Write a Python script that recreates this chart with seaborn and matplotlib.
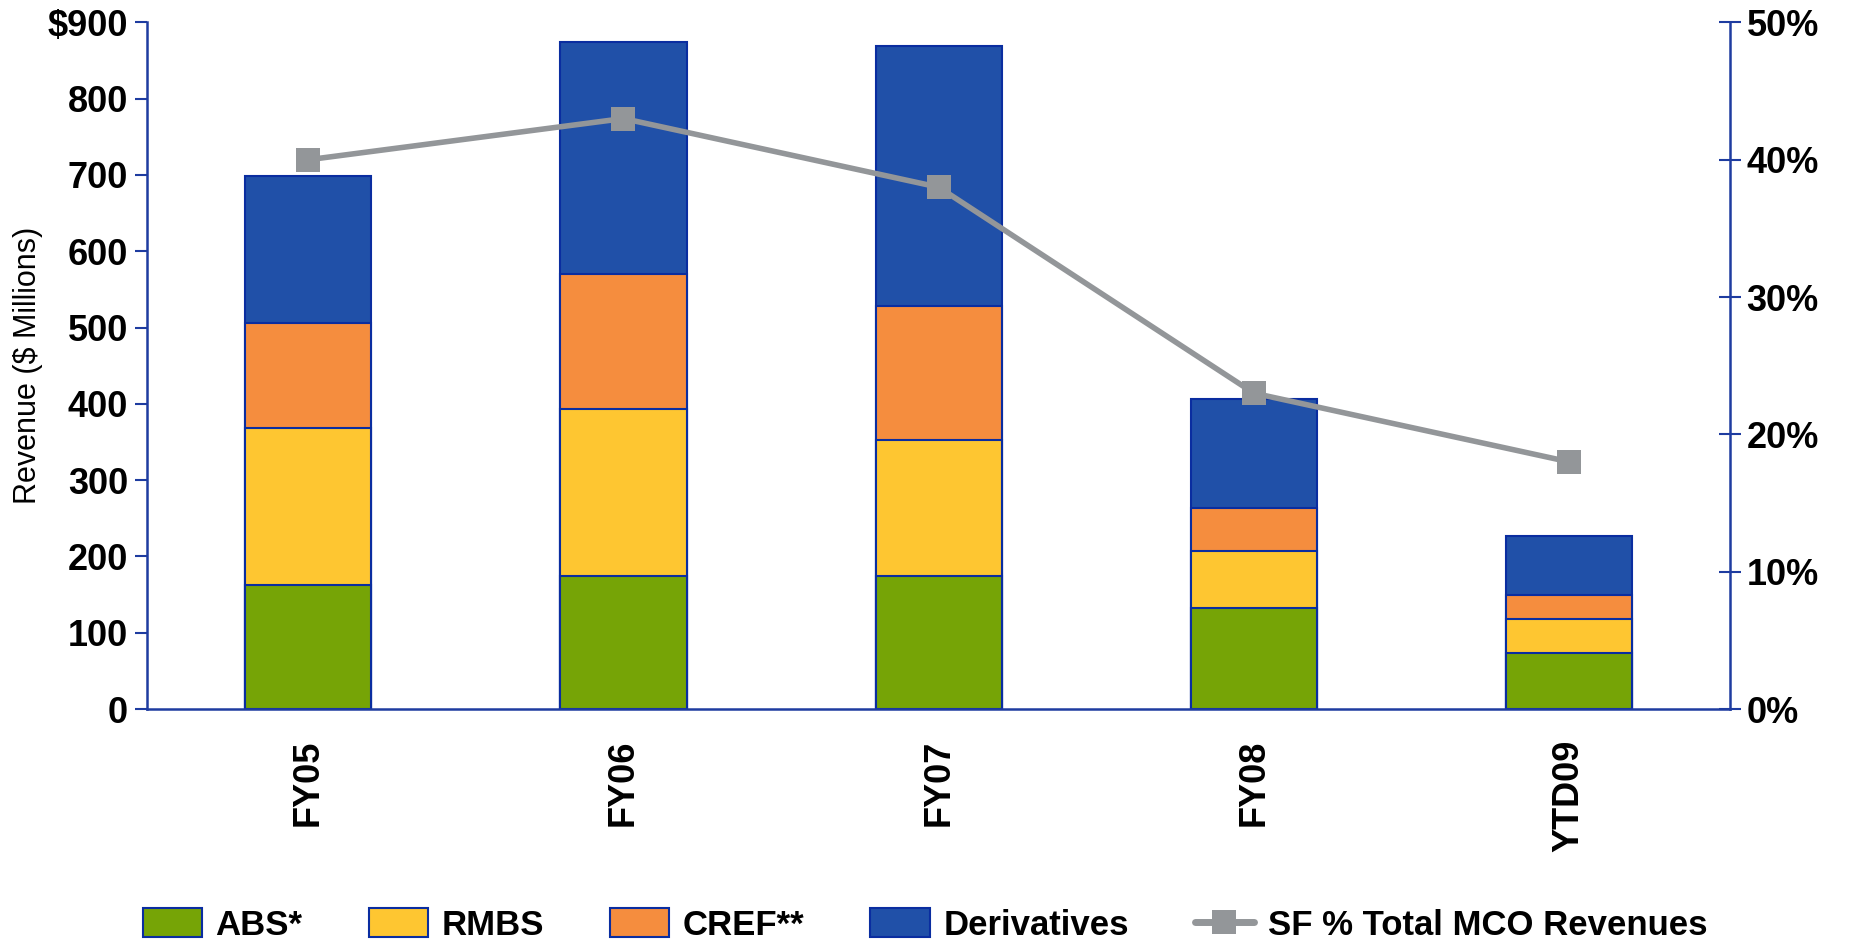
import pandas as pd
import seaborn as sns
import matplotlib.pyplot as plt
from matplotlib.patches import Patch
from matplotlib.lines import Line2D
from matplotlib.ticker import PercentFormatter

# --- Data ---
years = ["FY05", "FY06", "FY07", "FY08", "YTD09"]
abs_rev = [162, 175, 175, 133, 74]
rmbs_rev = [207, 218, 177, 74, 44]
cref_rev = [137, 177, 176, 56, 31]
deriv_rev = [193, 304, 341, 143, 78]
sf_pct = [40, 43, 38, 23, 18]

segments = ["ABS*", "RMBS", "CREF**", "Derivatives"]
colors = ["#76A406", "#FEC631", "#F58D3E", "#2050A8"]
edge_blue = "#0A2DA0"
axis_blue = "#1E3CA0"
line_grey = "#939699"

sns.set_theme(style="white")
plt.rcParams["font.family"] = ["Liberation Sans", "DejaVu Sans"]
plt.rcParams["text.color"] = "black"
plt.rcParams["axes.labelcolor"] = "black"
plt.rcParams["xtick.labelcolor"] = "black"
plt.rcParams["ytick.labelcolor"] = "black"

df = pd.DataFrame({"year": years, "ABS*": abs_rev, "RMBS": rmbs_rev,
                   "CREF**": cref_rev, "Derivatives": deriv_rev})
# cumulative totals for stacking
cum = df[segments].cumsum(axis=1)
cum["year"] = df["year"]

fig = plt.figure(figsize=(18.5, 9.46), dpi=100)
ax = fig.add_axes([0.0797, 0.2505, 0.8554, 0.7258])

# draw tallest (cumulative) first, then overlay lower segments
for seg, col in zip(segments[::-1], colors[::-1]):
    sns.barplot(data=cum, x="year", y=seg, order=years, color=col,
                width=0.4, edgecolor=edge_blue, linewidth=1.5,
                saturation=1, ax=ax)

ax.set_ylim(0, 900)
ax.set_xlim(-0.51, 4.51)
ax.set_yticks(range(0, 901, 100))
ax.set_yticklabels([str(v) for v in range(0, 900, 100)] + ["$900"],
                   fontsize=26, fontweight="bold")
ax.set_xticks(range(len(years)))
ax.set_xticklabels(years, rotation=90, fontsize=26, fontweight="bold")
ax.tick_params(axis="x", length=0, pad=22)
ax.tick_params(axis="y", direction="out", length=9, width=1.5,
               color=axis_blue, pad=5, left=True)
ax.set_xlabel("")
ax.set_ylabel("Revenue ($ Millions)", fontsize=22)
ax.yaxis.set_label_coords(-0.066, 0.5)

for side in ["top", "right"]:
    ax.spines[side].set_visible(False)
for side in ["left", "bottom"]:
    ax.spines[side].set_color(axis_blue)
    ax.spines[side].set_linewidth(1.8)

# --- SF % of total revenues on the right axis ---
ax2 = ax.twinx()
line_df = pd.DataFrame({"pos": range(len(years)), "pct": sf_pct})
sns.lineplot(data=line_df, x="pos", y="pct", color=line_grey, linewidth=4,
             marker="s", markersize=17, markeredgewidth=0, sort=False, ax=ax2)
ax2.set_ylim(0, 50)
ax2.set_yticks(range(0, 51, 10))
ax2.yaxis.set_major_formatter(PercentFormatter(decimals=0))
for t in ax2.get_yticklabels():
    t.set_fontsize(26)
    t.set_fontweight("bold")
ax2.tick_params(axis="y", direction="inout", length=16, width=1.5,
                color=axis_blue, pad=4, right=True)
ax2.set_ylabel("")
ax2.set_xlabel("")
for side in ["top", "left", "bottom"]:
    ax2.spines[side].set_visible(False)
ax2.spines["right"].set_color(axis_blue)
ax2.spines["right"].set_linewidth(1.8)

# --- Legend ---
handles = [Patch(facecolor=c, edgecolor=edge_blue, linewidth=1.5) for c in colors]
handles.append(Line2D([0], [0], color=line_grey, linewidth=5, marker="s",
                      markersize=17, markeredgewidth=0))
labels = segments + ["SF % Total MCO Revenues"]
fig.legend(handles, labels, loc="center", bbox_to_anchor=(0.5, 0.022),
           ncol=5, frameon=False, prop={"size": 25, "weight": "bold"},
           handlelength=1.7, handleheight=0.9, columnspacing=1.9,
           handletextpad=0.4)

fig.savefig("out.png", dpi=100)
